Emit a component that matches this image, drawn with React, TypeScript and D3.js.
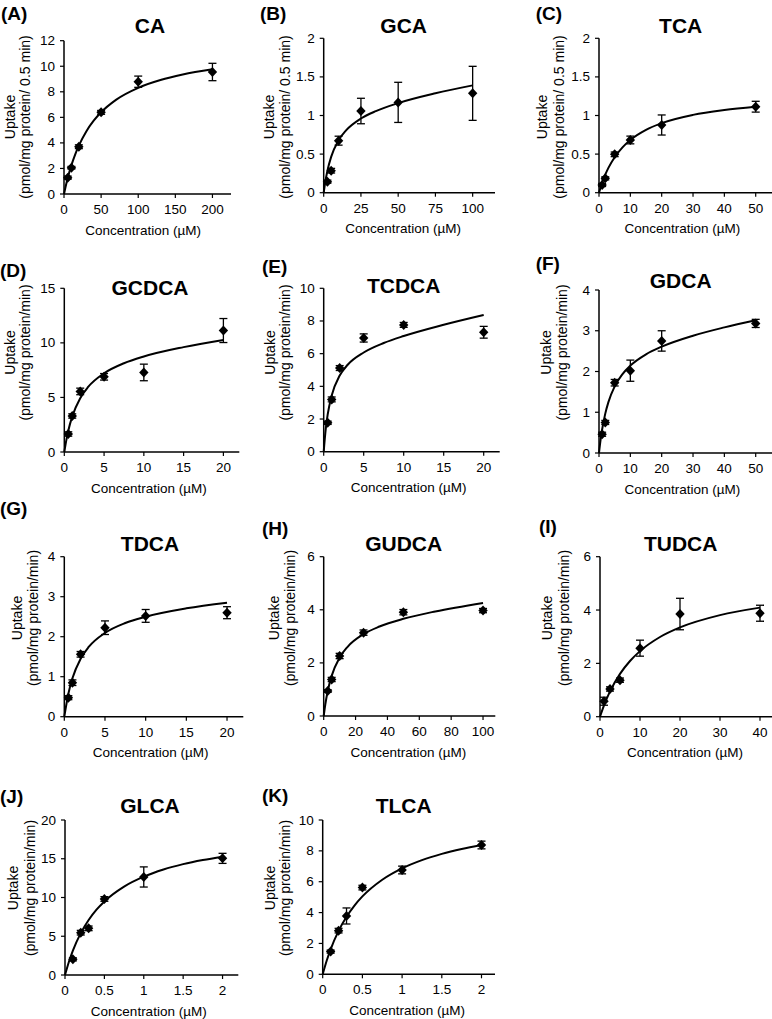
import React from "react";
import * as d3 from "d3";

// ---------------- DATA ----------------
// Measured points: concentration (µM), uptake, error (SD)
const caX = [5, 10, 20, 50, 100, 200];
const caY = [1.28, 2.06, 3.7, 6.39, 8.79, 9.55];
const caErr = [0.12, 0.1, 0.15, 0.15, 0.44, 0.68];
const caFitX = [0, 2, 5, 10, 15, 20, 30, 40, 50, 70, 100, 130, 160, 200];
const caFitY = [0, 0.53, 1.25, 2.26, 3.09, 3.79, 4.9, 5.74, 6.4, 7.37, 8.31, 8.92, 9.35, 9.76];

const gcaX = [2.5, 5, 10, 25, 50, 100];
const gcaY = [0.143, 0.285, 0.674, 1.058, 1.17, 1.287];
const gcaErr = [0.02, 0.03, 0.058, 0.165, 0.26, 0.35];
const gcaFitX = [0, 1, 2.5, 5, 10, 15, 25, 35, 50, 75, 100];
const gcaFitY = [0, 0.132, 0.285, 0.464, 0.679, 0.807, 0.961, 1.057, 1.16, 1.287, 1.39];

const tcaX = [1, 2, 5, 10, 20, 50];
const tcaY = [0.1, 0.186, 0.497, 0.683, 0.877, 1.114];
const tcaErr = [0.02, 0.02, 0.03, 0.05, 0.13, 0.07];
const tcaFitX = [0, 1, 2, 3, 5, 7.5, 10, 15, 20, 30, 40, 50];
const tcaFitY = [0, 0.128, 0.233, 0.321, 0.46, 0.588, 0.683, 0.814, 0.901, 1.008, 1.071, 1.114];

const gcdcaX = [0.5, 1, 2, 5, 10, 20];
const gcdcaY = [1.65, 3.3, 5.55, 6.89, 7.29, 11.13];
const gcdcaErr = [0.2, 0.2, 0.3, 0.3, 0.76, 1.1];
const gcdcaFitX = [0, 0.25, 0.5, 1, 2, 3, 5, 7.5, 10, 15, 20];
const gcdcaFitY = [0, 1.07, 1.95, 3.26, 4.93, 5.96, 7.21, 8.13, 8.75, 9.61, 10.27];

const tcdcaX = [0.5, 1, 2, 5, 10, 20];
const tcdcaY = [1.77, 3.2, 5.12, 6.96, 7.76, 7.31];
const tcdcaErr = [0.1, 0.15, 0.15, 0.25, 0.15, 0.36];
const tcdcaFitX = [0, 0.25, 0.5, 1, 2, 3, 5, 7.5, 10, 15, 20];
const tcdcaFitY = [0, 1.36, 2.28, 3.44, 4.66, 5.32, 6.07, 6.65, 7.08, 7.77, 8.37];

const gdcaX = [1, 2, 5, 10, 20, 50];
const gdcaY = [0.46, 0.75, 1.725, 2.02, 2.75, 3.18];
const gdcaErr = [0.05, 0.05, 0.08, 0.26, 0.25, 0.1];
const gdcaFitX = [0, 0.5, 1, 2, 3, 5, 7.5, 10, 15, 20, 30, 40, 50];
const gdcaFitY = [0, 0.32, 0.577, 0.966, 1.248, 1.634, 1.937, 2.145, 2.422, 2.61, 2.879, 3.083, 3.26];

const tdcaX = [0.5, 1, 2, 5, 10, 20];
const tdcaY = [0.475, 0.85, 1.56, 2.225, 2.52, 2.6];
const tdcaErr = [0.05, 0.07, 0.07, 0.17, 0.16, 0.15];
const tdcaFitX = [0, 0.5, 1, 2, 3, 5, 7.5, 10, 15, 20];
const tdcaFitY = [0, 0.574, 0.96, 1.446, 1.743, 2.094, 2.343, 2.5, 2.709, 2.85];

const gudcaX = [2.5, 5, 10, 25, 50, 100];
const gudcaY = [0.94, 1.375, 2.26, 3.14, 3.91, 3.97];
const gudcaErr = [0.05, 0.08, 0.1, 0.1, 0.1, 0.08];
const gudcaFitX = [0, 1, 2.5, 5, 10, 15, 25, 35, 50, 70, 100];
const gudcaFitY = [0, 0.433, 0.931, 1.511, 2.203, 2.607, 3.084, 3.37, 3.66, 3.938, 4.26];

const tudcaX = [1, 2.5, 5, 10, 20, 40];
const tudcaY = [0.58, 1.04, 1.37, 2.57, 3.85, 3.88];
const tudcaErr = [0.15, 0.08, 0.08, 0.3, 0.59, 0.3];
const tudcaFitX = [0, 1, 2.5, 5, 7.5, 10, 15, 20, 30, 40];
const tudcaFitY = [0, 0.425, 0.948, 1.606, 2.089, 2.459, 2.989, 3.349, 3.809, 4.09];

const glcaX = [0.1, 0.2, 0.3, 0.5, 1, 2];
const glcaY = [2.02, 5.46, 6.02, 9.81, 12.65, 15.05];
const glcaErr = [0.2, 0.3, 0.3, 0.3, 1.3, 0.65];
const glcaFitX = [0, 0.05, 0.1, 0.2, 0.3, 0.4, 0.5, 0.75, 1, 1.25, 1.5, 1.75, 2];
const glcaFitY = [0, 1.714, 3.146, 5.405, 7.105, 8.431, 9.495, 11.41, 12.69, 13.62, 14.31, 14.84, 15.27];

const tlcaX = [0.1, 0.2, 0.3, 0.5, 1, 2];
const tlcaY = [1.47, 2.83, 3.78, 5.62, 6.76, 8.38];
const tlcaErr = [0.1, 0.15, 0.52, 0.15, 0.25, 0.25];
const tlcaFitX = [0, 0.05, 0.1, 0.2, 0.3, 0.4, 0.5, 0.75, 1, 1.25, 1.5, 1.75, 2];
const tlcaFitY = [0, 0.875, 1.617, 2.812, 3.729, 4.456, 5.047, 6.13, 6.867, 7.401, 7.805, 8.122, 8.38];

// Tick values
const xTicks200 = [0, 50, 100, 150, 200];
const xTicks100q = [0, 25, 50, 75, 100];
const xTicks50 = [0, 10, 20, 30, 40, 50];
const xTicks20 = [0, 5, 10, 15, 20];
const xTicks100 = [0, 20, 40, 60, 80, 100];
const xTicks40 = [0, 10, 20, 30, 40];
const xTicks2 = [0, 0.5, 1, 1.5, 2];
const yTicks12 = [0, 2, 4, 6, 8, 10, 12];
const yTicks2 = [0, 0.5, 1, 1.5, 2];
const yTicks15 = [0, 5, 10, 15];
const yTicks10 = [0, 2, 4, 6, 8, 10];
const yTicks4 = [0, 1, 2, 3, 4];
const yTicks6 = [0, 2, 4, 6];
const yTicks20 = [0, 5, 10, 15, 20];

const letters = ["(A)", "(B)", "(C)", "(D)", "(E)", "(F)", "(G)", "(H)", "(I)", "(J)", "(K)"];
const titles = ["CA", "GCA", "TCA", "GCDCA", "TCDCA", "GDCA", "TDCA", "GUDCA", "TUDCA", "GLCA", "TLCA"];
const unitHalfMin = "(pmol/mg protein/ 0.5 min)";
const unitMin = "(pmol/mg protein/min)";

// ---------------- LAYOUT ----------------
const FONT = "'Liberation Sans', Arial, Helvetica, sans-serif";

type Panel = {
  xs: number[]; ys: number[]; es: number[]; fx: number[]; fy: number[];
  xt: number[]; yt: number[]; xMax: number; yMax: number;
  x0: number; x1: number; yTop: number; yBot: number;
  lx: number; ly: number; tx: number; ty: number;
  u1: number; u2: number; uc: number; unit: string;
};

const panels: Panel[] = [
  { xs: caX, ys: caY, es: caErr, fx: caFitX, fy: caFitY, xt: xTicks200, yt: yTicks12, xMax: 225, yMax: 12,
    x0: 64, x1: 231, yTop: 40.7, yBot: 194, lx: 1, ly: 13, tx: 150, ty: 25, u1: 10, u2: 25, uc: 117, unit: unitHalfMin },
  { xs: gcaX, ys: gcaY, es: gcaErr, fx: gcaFitX, fy: gcaFitY, xt: xTicks100q, yt: yTicks2, xMax: 115, yMax: 2,
    x0: 323.7, x1: 495, yTop: 38.3, yBot: 192.7, lx: 260, ly: 13, tx: 403.7, ty: 25, u1: 268.7, u2: 285.3, uc: 117, unit: unitHalfMin },
  { xs: tcaX, ys: tcaY, es: tcaErr, fx: tcaFitX, fy: tcaFitY, xt: xTicks50, yt: yTicks2, xMax: 55.2, yMax: 2,
    x0: 599, x1: 772, yTop: 38.3, yBot: 192.7, lx: 535.7, ly: 13, tx: 680.7, ty: 25, u1: 542.3, u2: 559, uc: 117, unit: unitHalfMin },
  { xs: gcdcaX, ys: gcdcaY, es: gcdcaErr, fx: gcdcaFitX, fy: gcdcaFitY, xt: xTicks20, yt: yTicks15, xMax: 22, yMax: 15,
    x0: 64.3, x1: 239.3, yTop: 288.3, yBot: 452, lx: 0, ly: 270, tx: 150, ty: 287, u1: 10, u2: 25, uc: 352.5, unit: unitMin },
  { xs: tcdcaX, ys: tcdcaY, es: tcdcaErr, fx: tcdcaFitX, fy: tcdcaFitY, xt: xTicks20, yt: yTicks10, xMax: 22, yMax: 10,
    x0: 323.7, x1: 499.7, yTop: 288.3, yBot: 451.7, lx: 262, ly: 266.7, tx: 403.7, ty: 285, u1: 270.3, u2: 285.3, uc: 352.5, unit: unitMin },
  { xs: gdcaX, ys: gdcaY, es: gdcaErr, fx: gdcaFitX, fy: gdcaFitY, xt: xTicks50, yt: yTicks4, xMax: 55.2, yMax: 4,
    x0: 599, x1: 772, yTop: 290, yBot: 453, lx: 535.7, ly: 263.3, tx: 680.7, ty: 280, u1: 545.7, u2: 562.3, uc: 352.5, unit: unitMin },
  { xs: tdcaX, ys: tdcaY, es: tdcaErr, fx: tdcaFitX, fy: tdcaFitY, xt: xTicks20, yt: yTicks4, xMax: 22, yMax: 4,
    x0: 64.3, x1: 243.3, yTop: 556.7, yBot: 716.7, lx: 0, ly: 508.3, tx: 150, ty: 543.3, u1: 16.7, u2: 33.3, uc: 618, unit: unitMin },
  { xs: gudcaX, ys: gudcaY, es: gudcaErr, fx: gudcaFitX, fy: gudcaFitY, xt: xTicks100, yt: yTicks6, xMax: 107.7, yMax: 6,
    x0: 323.7, x1: 495.3, yTop: 556.7, yBot: 716, lx: 262, ly: 528.3, tx: 403.7, ty: 543.3, u1: 273.7, u2: 290.3, uc: 618, unit: unitMin },
  { xs: tudcaX, ys: tudcaY, es: tudcaErr, fx: tudcaFitX, fy: tudcaFitY, xt: xTicks40, yt: yTicks6, xMax: 43, yMax: 6,
    x0: 600, x1: 772, yTop: 556.7, yBot: 716.7, lx: 539, ly: 526.7, tx: 680.7, ty: 543.3, u1: 547.3, u2: 564, uc: 618, unit: unitMin },
  { xs: glcaX, ys: glcaY, es: glcaErr, fx: glcaFitX, fy: glcaFitY, xt: xTicks2, yt: yTicks20, xMax: 2.2, yMax: 20,
    x0: 65, x1: 238.3, yTop: 820, yBot: 975, lx: 0, ly: 796.7, tx: 150, ty: 805, u1: 13.3, u2: 30, uc: 888, unit: unitMin },
  { xs: tlcaX, ys: tlcaY, es: tlcaErr, fx: tlcaFitX, fy: tlcaFitY, xt: xTicks2, yt: yTicks10, xMax: 2.17, yMax: 10,
    x0: 322.7, x1: 495, yTop: 820, yBot: 974.3, lx: 262, ly: 795, tx: 403.7, ty: 805, u1: 270, u2: 285, uc: 888, unit: unitMin },
];

const diamond = "M0,-5L4.7,0L0,5L-4.7,0Z";

function PanelView({ p, i }: { p: Panel; i: number }) {
  const xs = d3.scaleLinear().domain([0, p.xMax]).range([p.x0, p.x1]);
  const ys = d3.scaleLinear().domain([0, p.yMax]).range([p.yBot, p.yTop]);
  const fit = p.fx.map((x, k) => [x, p.fy[k]] as [number, number]);
  const line = d3
    .line<[number, number]>()
    .x((d) => xs(d[0]))
    .y((d) => ys(d[1]))
    .curve(d3.curveMonotoneX);
  return (
    <g>
      <text x={p.lx} y={p.ly} fontFamily={FONT} fontWeight="bold" fontSize={19} dominantBaseline="central">
        {letters[i]}
      </text>
      <text x={p.tx} y={p.ty} fontFamily={FONT} fontWeight="bold" fontSize={21} textAnchor="middle" dominantBaseline="central">
        {titles[i]}
      </text>
      {/* y axis label */}
      <text transform={`translate(${p.u1},${p.uc}) rotate(-90)`} fontFamily={FONT} fontSize={14} textAnchor="middle" dominantBaseline="central">
        Uptake
      </text>
      <text transform={`translate(${p.u2},${p.uc}) rotate(-90)`} fontFamily={FONT} fontSize={14} textAnchor="middle" dominantBaseline="central">
        {p.unit}
      </text>
      {/* axes */}
      <line x1={p.x0} x2={p.x0} y1={p.yBot} y2={p.yTop} stroke="#000" strokeWidth={1.5} />
      <line x1={p.x0} x2={p.x1} y1={p.yBot} y2={p.yBot} stroke="#000" strokeWidth={1.5} />
      {p.yt.map((t) => (
        <g key={"y" + t}>
          <line x1={p.x0 - 4} x2={p.x0} y1={ys(t)} y2={ys(t)} stroke="#000" strokeWidth={1.2} />
          <text x={p.x0 - 9} y={ys(t)} fontFamily={FONT} fontSize={13.5} textAnchor="end" dominantBaseline="central">
            {String(t)}
          </text>
        </g>
      ))}
      {p.xt.map((t) => (
        <g key={"x" + t}>
          <line x1={xs(t)} x2={xs(t)} y1={p.yBot} y2={p.yBot + 4} stroke="#000" strokeWidth={1.2} />
          <text x={xs(t)} y={p.yBot + 15.5} fontFamily={FONT} fontSize={13.5} textAnchor="middle" dominantBaseline="central">
            {String(t)}
          </text>
        </g>
      ))}
      <text x={(p.x0 + Math.min(p.x1, xs(p.xt[p.xt.length - 1]) + 10)) / 2} y={p.yBot + 36} fontFamily={FONT} fontSize={13.5} textAnchor="middle" dominantBaseline="central">
        Concentration (µM)
      </text>
      {/* fitted curve */}
      <path d={line(fit) || ""} fill="none" stroke="#000" strokeWidth={2} />
      {/* error bars */}
      {p.xs.map((x, k) => {
        const cx = xs(x);
        const top = ys(p.ys[k] + p.es[k]);
        const bot = ys(p.ys[k] - p.es[k]);
        return (
          <g key={"e" + k} stroke="#000" strokeWidth={1.3}>
            <line x1={cx} x2={cx} y1={top} y2={bot} />
            <line x1={cx - 4} x2={cx + 4} y1={top} y2={top} />
            <line x1={cx - 4} x2={cx + 4} y1={bot} y2={bot} />
          </g>
        );
      })}
      {p.xs.map((x, k) => (
        <path key={"m" + k} d={diamond} transform={`translate(${xs(x)},${ys(p.ys[k])})`} fill="#000" />
      ))}
    </g>
  );
}

export default function App() {
  return (
    <svg
      width={772}
      height={1019}
      viewBox="0 0 772 1019"
      style={{ position: "absolute", left: 0, top: 0, background: "#fff" }}
    >
      <rect x={0} y={0} width={772} height={1019} fill="#fff" />
      {panels.map((p, i) => (
        <PanelView key={i} p={p} i={i} />
      ))}
    </svg>
  );
}
